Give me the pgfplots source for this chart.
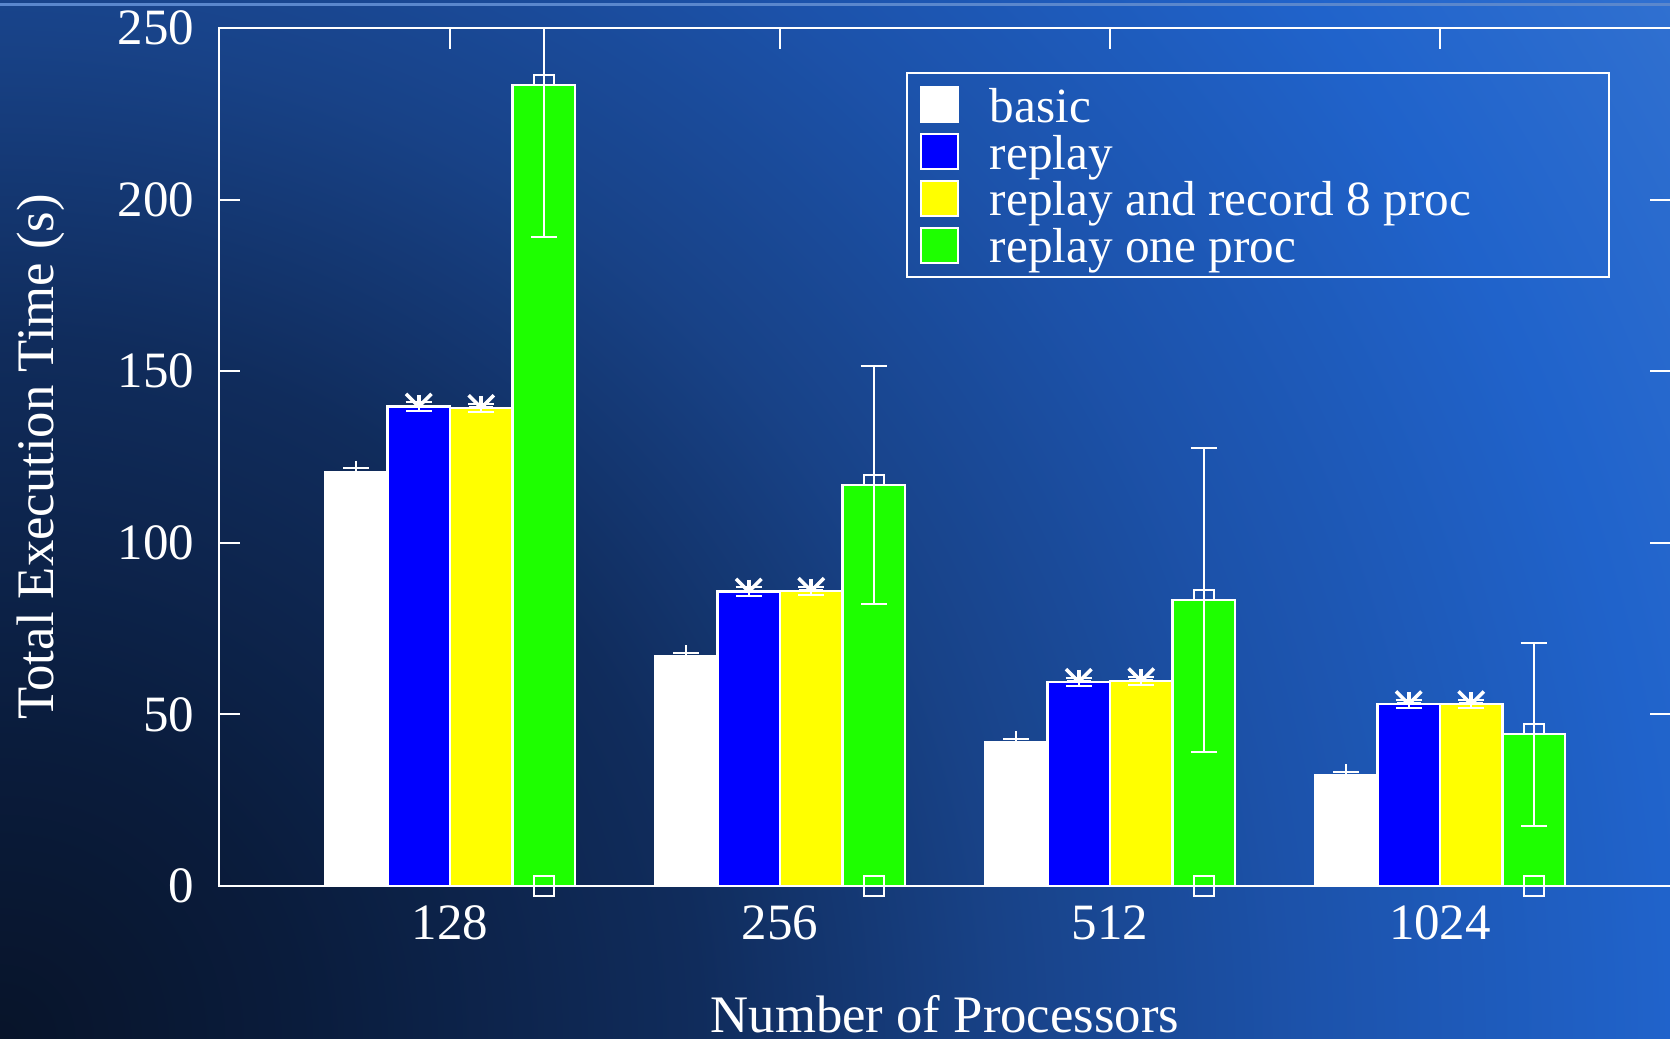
\documentclass[border=0pt]{standalone}
\usepackage{fontspec}
\setmainfont{Liberation Serif}
\usepackage{pgfplots}
\pgfplotsset{compat=1.18}
\usepackage{pgfplotstable}

\definecolor{bg0}{RGB}{8,20,42}
\definecolor{bg1}{RGB}{10,28,60}
\definecolor{bg2}{RGB}{16,44,92}
\definecolor{bg3}{RGB}{24,66,135}
\definecolor{bg4}{RGB}{28,82,170}
\definecolor{bg5}{RGB}{32,99,203}
\definecolor{bg6}{RGB}{48,112,208}
\definecolor{topline}{RGB}{90,135,205}
\definecolor{barblue}{RGB}{0,0,255}
\definecolor{baryellow}{RGB}{255,255,0}
\definecolor{bargreen}{RGB}{30,255,0}

\pgfdeclareradialshading{bgshade}{\pgfpoint{0bp}{0bp}}{color(0bp)=(bg0); color(3.75bp)=(bg1); color(8.75bp)=(bg2); color(12.5bp)=(bg3); color(16.25bp)=(bg4); color(20.875bp)=(bg5); color(24.575bp)=(bg6); color(25bp)=(bg6); color(50bp)=(bg6)}

% x: 0=128, 1=256, 2=512, 3=1024
% oneEp: upper error of "replay one proc", cut at the top of the axis (250) for 128
\pgfplotstableread{
x basic basicE replay replayE rec recE one oneEp oneEm
0 120.7 1.0 139.7 1.2 139.3 1.2 233.4 16.6 44.3
1 67.0  1.0 85.8  1.2 86.0  1.2 116.8 34.6 34.6
2 41.9  1.0 59.5  1.2 59.7  1.2 83.3  44.3 44.3
3 32.3  1.0 53.0  1.2 53.0  1.2 44.2  26.6 26.6
}\data

\pgfplotsset{
  gbar/.style={ybar, bar width=0.625cm, bar shift=0pt, draw=white, line width=0.6pt,
    error bars/y dir=both, error bars/y explicit,
    error bars/error mark=-,
    error bars/error bar style={white, line width=0.6pt},
    error bars/error mark options={rotate=90, white, mark size=3.7pt, line width=0.6pt}},
  starmark/.style={forget plot, only marks, white, line width=1pt,
    mark=x, mark size=5.1pt},
  plusmark/.style={forget plot, only marks, white, line width=1pt,
    mark=+, mark size=3.4pt},
  swatch/.style 2 args={legend image code/.code={\draw[xshift=#2, fill=#1, draw=white, line width=0.6pt] (0cm,-0.175cm) rectangle (0.37cm,0.175cm); \path[xshift=#2] (0.68cm,0cm);}},
}

\begin{document}
\begin{tikzpicture}
\path[use as bounding box] (0,0) rectangle (16.7cm,10.39cm);
\clip (0,0) rectangle (16.7cm,10.39cm);
\shade[shading=bgshade] (0,0) circle (20cm);
\draw[topline, line width=0.03cm] (0,10.34cm) -- (16.7cm,10.34cm);
\begin{axis}[
  at={(2.19cm,1.53cm)}, anchor=south west,
  scale only axis, width=14.52cm, height=8.58cm,
  xmin=-0.7, xmax=3.7, ymin=0, ymax=250,
  clip=false, clip marker paths=true,
  xtick={0,1,2,3}, xticklabels={128,256,512,1024},
  ytick={0,50,100,150,200,250},
  axis line style={white, line width=0.6pt},
  every tick/.style={white, line width=0.6pt},
  major tick length=0.21cm,
  tick align=inside,
  ticklabel style={white, font=\fontsize{14.5}{17}\selectfont},
  /pgf/number format/assume math mode=true,
  yticklabel style={anchor=east, inner sep=0pt, xshift=-0.24cm},
  xticklabel style={anchor=base, inner sep=0pt, yshift=-0.54cm},
  xlabel={Number of Processors},
  ylabel={Total Execution Time (s)},
  label style={white, font=\fontsize{15}{18}\selectfont},
  xlabel style={at={([yshift=-1.47cm]axis description cs:0.5,0)}, anchor=base},
  ylabel style={at={([xshift=-1.65cm]axis description cs:0,0.5)}, anchor=base, rotate=0},
  legend cell align=left,
  legend style={at={(0.958,0.9487)}, anchor=north east, draw=white, line width=0.6pt,
    fill=none, text=white, font=\fontsize{14}{17}\selectfont,
    inner xsep=0.13cm, inner ysep=0.13cm, row sep=0.098cm,
    nodes={inner sep=0pt, text height=0.35cm, text depth=0cm}},
]
% marks that the bars partly cover
\addplot[forget plot, only marks, mark=+, mark size=3.1pt, white, line width=0.6pt, xshift=-0.9375cm] table[x=x, y=basic]{\data};
\addplot[starmark, xshift=-0.3125cm] table[x=x, y=replay]{\data};
\addplot[plusmark, xshift=-0.3125cm] table[x=x, y=replay]{\data};
\addplot[starmark, xshift=0.3125cm] table[x=x, y=rec]{\data};
\addplot[plusmark, xshift=0.3125cm] table[x=x, y=rec]{\data};
\addplot[forget plot, only marks, mark=square, mark size=2.85pt, white, line width=0.6pt, xshift=0.9375cm] table[x=x, y=one]{\data};

\addplot[gbar, fill=white, swatch={white}{0.9375cm}, xshift=-0.9375cm] table[x=x, y=basic, y error=basicE]{\data};
\addplot[gbar, fill=barblue, swatch={barblue}{0.3125cm}, xshift=-0.3125cm] table[x=x, y=replay, y error=replayE]{\data};
\addplot[gbar, fill=baryellow, swatch={baryellow}{-0.3125cm}, xshift=0.3125cm] table[x=x, y=rec, y error=recE]{\data};
\addplot[gbar, fill=bargreen, swatch={bargreen}{-0.9375cm}, xshift=0.9375cm] table[x=x, y=one, y error plus=oneEp, y error minus=oneEm]{\data};

\addplot[forget plot, only marks, mark=square, mark size=2.85pt, white, line width=0.6pt, xshift=0.9375cm] coordinates {(0,0) (1,0) (2,0) (3,0)};

\legend{\makebox[6.06cm][l]{basic}, replay, replay and record 8 proc, replay one proc}
\end{axis}
\end{tikzpicture}
\end{document}
